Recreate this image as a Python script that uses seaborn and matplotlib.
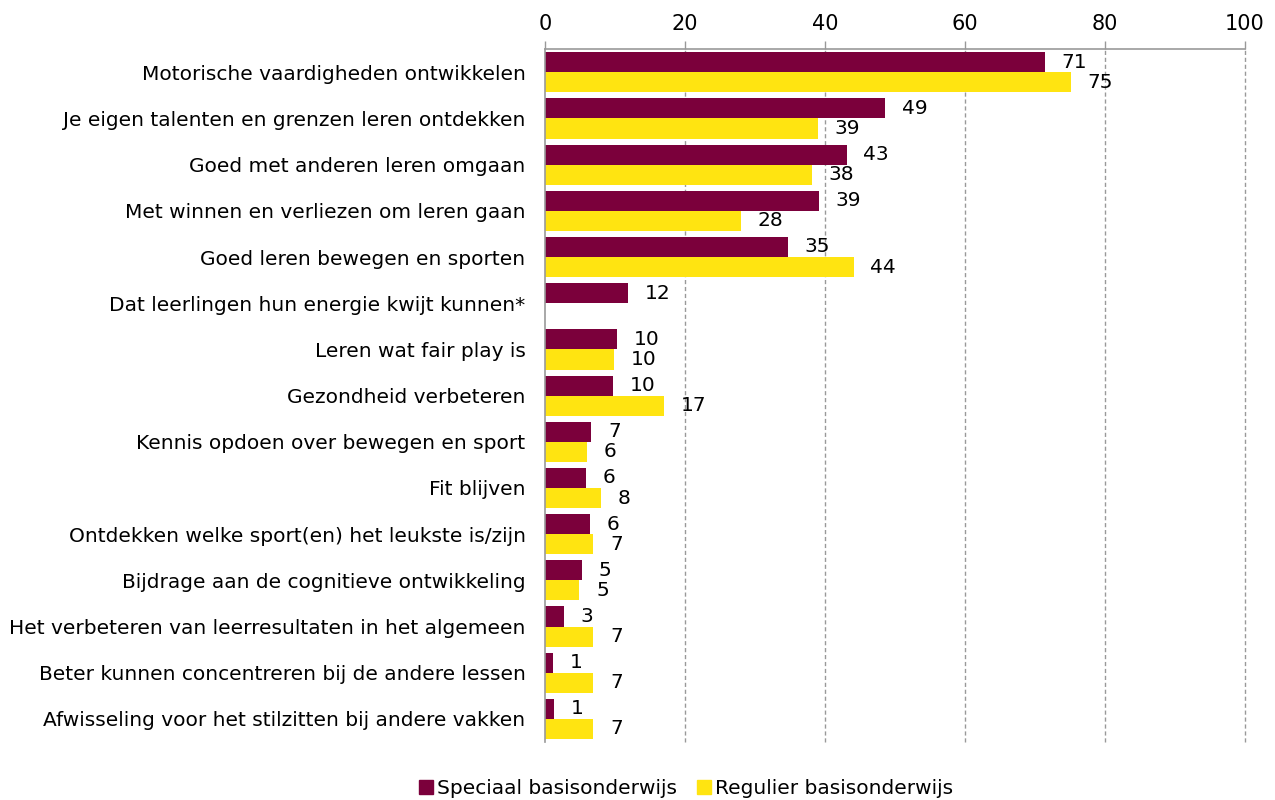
import numpy as np
import pandas as pd
import seaborn as sns
import matplotlib.pyplot as plt

# Data
categories = [
    "Motorische vaardigheden ontwikkelen",
    "Je eigen talenten en grenzen leren ontdekken",
    "Goed met anderen leren omgaan",
    "Met winnen en verliezen om leren gaan",
    "Goed leren bewegen en sporten",
    "Dat leerlingen hun energie kwijt kunnen*",
    "Leren wat fair play is",
    "Gezondheid verbeteren",
    "Kennis opdoen over bewegen en sport",
    "Fit blijven",
    "Ontdekken welke sport(en) het leukste is/zijn",
    "Bijdrage aan de cognitieve ontwikkeling",
    "Het verbeteren van leerresultaten in het algemeen",
    "Beter kunnen concentreren bij de andere lessen",
    "Afwisseling voor het stilzitten bij andere vakken",
]
speciaal = [71.4, 48.6, 43.1, 39.1, 34.7, 11.9, 10.3, 9.7, 6.6, 5.9, 6.4, 5.3, 2.7, 1.1, 1.3]
regulier = [75.1, 39.0, 38.1, 28.0, 44.1, np.nan, 9.9, 17.0, 6.0, 8.0, 6.9, 4.9, 6.9, 6.9, 6.9]
series_names = ["Speciaal basisonderwijs", "Regulier basisonderwijs"]
x_ticks = [0, 20, 40, 60, 80, 100]
colors = ["#7B003B", "#FFE411"]

df = pd.DataFrame({
    "categorie": categories * 2,
    "waarde": speciaal + regulier,
    "type": [series_names[0]] * len(categories) + [series_names[1]] * len(categories),
})

sns.set_style("white")
plt.rcParams["font.family"] = ["DejaVu Sans"]
plt.rcParams["text.color"] = "black"
plt.rcParams["xtick.labelcolor"] = "black"
plt.rcParams["ytick.labelcolor"] = "black"

fig = plt.figure(figsize=(12.75, 8), dpi=100)
ax = fig.add_axes([0.4275, 0.0725, 0.549, 0.866])

sns.barplot(data=df, x="waarde", y="categorie", hue="type", orient="h",
            palette=colors, width=0.87, gap=0, linewidth=0,
            saturation=1, ax=ax, legend=False)

# value labels
for cont in ax.containers:
    ax.bar_label(cont, fmt=lambda v: "" if np.isnan(v) else f"{v:.0f}",
                 padding=12, fontsize=14.5, color="black")

ax.set_xlim(0, 100)
ax.set_ylim(14.5, -0.5)
ax.xaxis.tick_top()
ax.set_xticks(x_ticks)
ax.tick_params(axis="x", top=True, length=6, width=1, color="#999999",
               labelsize=15, pad=5)
ax.set_xlabel("")
ax.set_ylabel("")

# category boundaries as y ticks
ax.set_yticks(np.arange(-0.5, 15), minor=True)
ax.tick_params(axis="y", which="major", length=0, labelsize=14.5, pad=14)
ax.tick_params(axis="y", which="minor", length=8, width=1, color="#999999")

for v in x_ticks[1:]:
    ax.axvline(v, color="#999999", linestyle=(0, (3, 2)), linewidth=1,
               zorder=0, clip_on=False)

for side in ["bottom", "right"]:
    ax.spines[side].set_visible(False)
for side in ["top", "left"]:
    ax.spines[side].set_color("#999999")
    ax.spines[side].set_linewidth(1.2)

handles = [plt.Rectangle((0, 0), 1, 1, color=c) for c in colors]
fig.legend(handles, series_names, loc="lower center", bbox_to_anchor=(0.538, -0.02),
           ncol=2, frameon=False, fontsize=14.5, handlelength=0.7, handleheight=0.7,
           handletextpad=0.2, columnspacing=1.0)

fig.savefig("out.png", dpi=100)
